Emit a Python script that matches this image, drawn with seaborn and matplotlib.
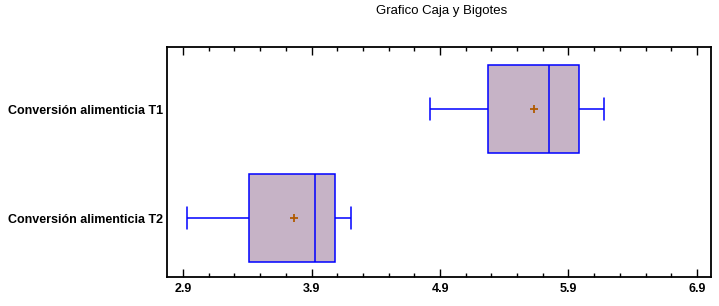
import numpy as np
import pandas as pd
import seaborn as sns
import matplotlib.pyplot as plt
from matplotlib.ticker import MultipleLocator

categories = ["Conversión alimenticia T1", "Conversión alimenticia T2"]
mins = [4.82, 2.93]
q1s = [5.27, 3.41]
medians = [5.745, 3.93]
q3s = [5.98, 4.08]
maxs = [6.18, 4.21]
means = [5.63, 3.76]

# five-number summary per group -> quartiles fall exactly on the values
rows = []
for i, cat in enumerate(categories):
    for v in [mins[i], q1s[i], medians[i], q3s[i], maxs[i]]:
        rows.append({"serie": cat, "valor": v})
df = pd.DataFrame(rows)

sns.set_style("white")
plt.rcParams["font.family"] = ["Liberation Sans", "DejaVu Sans"]
plt.rcParams["text.color"] = "black"
plt.rcParams["xtick.color"] = "black"
plt.rcParams["ytick.color"] = "black"

fig = plt.figure(figsize=(7.19, 3.06), dpi=100)
ax = fig.add_axes([0.2323, 0.0948, 0.7567, 0.7512])

sns.boxplot(data=df, x="valor", y="serie", orient="h", order=categories,
            whis=(0, 100), width=0.81, color="#c6b3c6", saturation=1,
            linecolor="#0000ff", linewidth=1.1, showfliers=False, ax=ax)

# shorten the whisker caps (vertical segments outside the box)
for ln in ax.lines:
    x = np.asarray(ln.get_xdata(), dtype=float)
    y = np.asarray(ln.get_ydata(), dtype=float)
    if len(x) == 2 and x[0] == x[1]:
        span = abs(y[1] - y[0])
        if span < 0.6:
            c = y.mean()
            ln.set_ydata([c - 0.1, c + 0.1])

sns.scatterplot(x=means, y=categories, marker="+", color="#b05a00", s=30,
                linewidth=1.3, zorder=5, legend=False, ax=ax)

ax.set_xlim(2.775, 7.01)
ax.set_ylim(1.54, -0.57)
ax.set_xlabel("")
ax.set_ylabel("")
ax.set_xticks(np.arange(2.9, 6.95, 1.0))
ax.set_xticklabels(["2.9", "3.9", "4.9", "5.9", "6.9"])
ax.xaxis.set_minor_locator(MultipleLocator(0.2, offset=0.1))
ax.tick_params(axis="x", which="major", direction="in", length=6, width=1,
               top=True, bottom=True, labelsize=9, pad=4)
ax.tick_params(axis="x", which="minor", direction="in", length=3, width=1,
               top=True, bottom=True)
ax.tick_params(axis="y", length=0, labelsize=9, pad=3)
for lab in ax.get_xticklabels():
    lab.set_fontweight("bold")
for lab in ax.get_yticklabels():
    lab.set_fontweight("bold")
for s in ax.spines.values():
    s.set_color("black")
    s.set_linewidth(1.3)

fig.text(0.614, 0.965, "Grafico Caja y Bigotes", ha="center", va="center",
         fontsize=9.5)

fig.savefig("out.png", dpi=100)
